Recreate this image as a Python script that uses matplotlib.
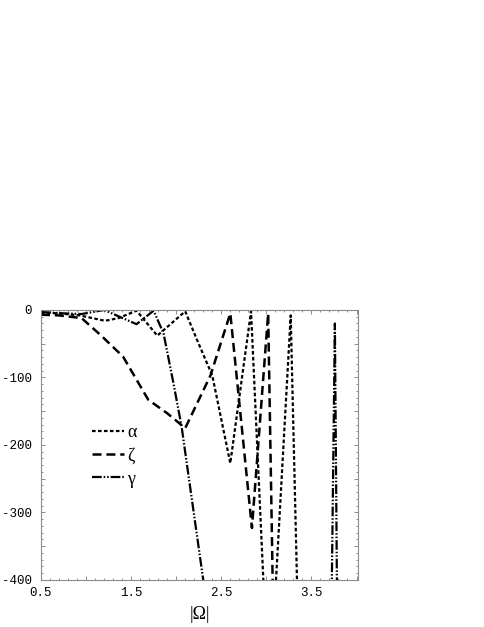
import matplotlib
matplotlib.use('Agg')
import matplotlib.pyplot as plt
from matplotlib.ticker import MultipleLocator, FuncFormatter

# values (points below -400 are off-chart continuations)
alpha_x = [0.5, 0.7, 0.93, 1.21, 1.36, 1.56, 1.79, 2.1, 2.23, 2.4, 2.6, 2.83, 3.03, 3.27, 3.40]
alpha_y = [-4, -5, -8, -16, -12, -1, -38, -2, -44, -97, -227, -2, -585, -8, -740]

zeta_x = [0.5, 0.7, 0.95, 1.16, 1.41, 1.69, 1.9, 2.1, 2.38, 2.6, 2.84, 3.02, 3.10]
zeta_y = [-7, -8, -12, -37, -69, -133, -153, -175, -97, -5, -323, -5, -640]

gamma_x = [0.5, 0.75, 0.95, 1.2, 1.56, 1.75, 1.86, 1.97, 2.06, 2.19, 2.30, 2.40, 3.70, 3.76, 3.80]
gamma_y = [-3, -5, -6, 0, -21, -1, -35, -109, -173, -296, -400, -520, -700, -20, -700]

labels = ['α', 'ζ', 'γ']
x_label_vals = [0.5, 1.5, 2.5, 3.5]
y_label_vals = [0, -100, -200, -300, -400]

plt.rcParams['lines.scale_dashes'] = False
plt.rcParams['axes.unicode_minus'] = False

fig = plt.figure(figsize=(4.85, 6.27), dpi=100)
ax = fig.add_axes([0.0845, 0.075, 0.6543, 0.4306])

ax.plot(alpha_x, alpha_y, color='black', lw=1.6, linestyle=(0, (2.6, 1.7)), label=labels[0])
ax.plot(zeta_x, zeta_y, color='black', lw=1.8, linestyle=(0, (6.5, 3.5)), label=labels[1])
ax.plot(gamma_x, gamma_y, color='black', lw=1.6,
        linestyle=(0, (7, 1.4, 1.1, 1.4, 1.1, 1.4)), label=labels[2])

ax.set_xlim(0.5, 4.02)
ax.set_ylim(-400, 0)

ax.xaxis.set_major_locator(MultipleLocator(0.5))
ax.xaxis.set_minor_locator(MultipleLocator(0.1))
ax.yaxis.set_major_locator(MultipleLocator(50))
ax.yaxis.set_minor_locator(MultipleLocator(10))
ax.xaxis.set_major_formatter(FuncFormatter(
    lambda v, p: '%.1f' % v if any(abs(v - t) < 1e-6 for t in x_label_vals) else ''))
ax.yaxis.set_major_formatter(FuncFormatter(
    lambda v, p: '%d' % v if any(abs(v - t) < 1e-6 for t in y_label_vals) else ''))

for s in ax.spines.values():
    s.set_color('#8c8c8c')
    s.set_linewidth(0.8)
ax.tick_params(which='both', direction='in', top=True, right=True, color='#8c8c8c', width=0.7)
ax.tick_params(which='major', length=3.2)
ax.tick_params(which='minor', length=1.6)
ax.tick_params(axis='x', pad=5)
ax.tick_params(axis='y', pad=6.5)
for t in ax.get_xticklabels() + ax.get_yticklabels():
    t.set_family('Liberation Mono')
    t.set_fontsize(9)

ax.set_xlabel('|Ω|', family='Liberation Serif', fontsize=13, labelpad=5)

leg = ax.legend(loc='upper left', bbox_to_anchor=(0.161, 0.578), frameon=False,
                prop={'family': 'Liberation Serif', 'size': 13},
                handlelength=1.75, handletextpad=0.2, labelspacing=0.35,
                borderpad=0, borderaxespad=0)

fig.savefig('out.png', dpi=100, facecolor='white')
